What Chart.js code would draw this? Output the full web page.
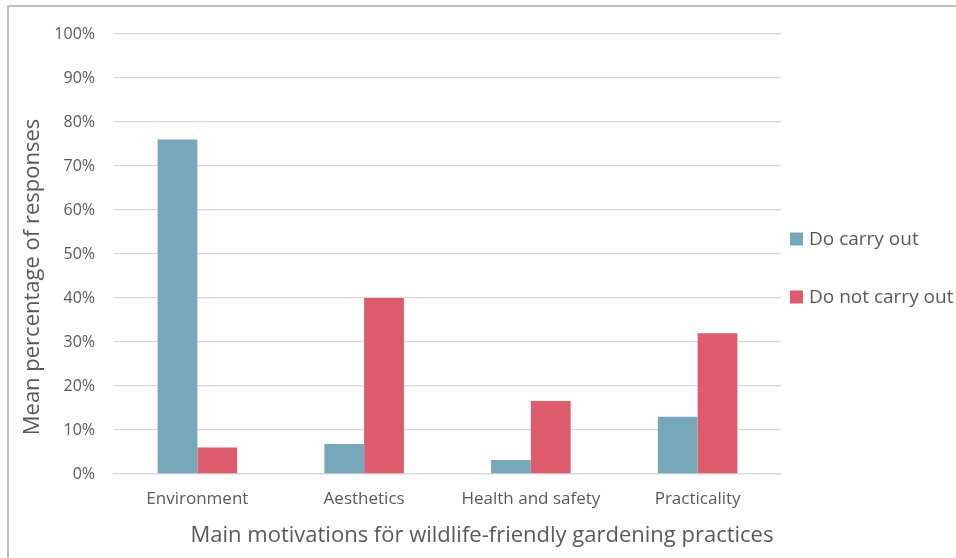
<!DOCTYPE html>
<html>
<head>
<meta charset="utf-8">
<script src="https://cdn.jsdelivr.net/npm/chart.js@4"></script>
<style>
  html, body { margin: 0; padding: 0; background: #ffffff; }
  #wrap { position: relative; width: 956px; height: 558px; overflow: hidden; }
  #frame { position: absolute; left: 7px; top: 5px; right: -4px; bottom: -4px;
           border-left: 2px solid #c4bdb5; border-top: 2px solid #c4bdb5; pointer-events: none; }
  canvas { position: absolute; left: 0; top: 0; }
</style>
</head>
<body>
<div id="wrap">
  <canvas id="c" width="956" height="558"></canvas>
  <div id="frame"></div>
</div>
<script>
// Motivation categories and mean response shares (%)
const categories = ['Environment', 'Aesthetics', 'Health and safety', 'Practicality'];
const doCarryOut = [76, 6.8, 3.2, 13];
const doNotCarryOut = [6, 40, 16.6, 32];
const seriesNames = ['Do carry out', 'Do not carry out'];
const seriesColors = ['#76a8b9', '#dc5b6c'];
const yTickValues = [0, 10, 20, 30, 40, 50, 60, 70, 80, 90, 100];
const xTitle = 'Main motivations för wildlife-friendly gardening practices';
const yTitle = 'Mean percentage of responses';

const FONT = "'Open Sans', 'DejaVu Sans', sans-serif";
const TEXT = '#595959';

// Axis titles and the side legend, drawn after the chart itself
const decorations = {
  id: 'decorations',
  afterDraw(chart) {
    const ctx = chart.ctx;
    ctx.save();
    ctx.fillStyle = TEXT;
    ctx.textAlign = 'center';
    ctx.textBaseline = 'middle';
    ctx.font = '22px ' + FONT;
    ctx.fillText(xTitle, 482, 536);
    ctx.save();
    ctx.translate(33, 277);
    ctx.rotate(-Math.PI / 2);
    ctx.fillText(yTitle, 0, 0);
    ctx.restore();

    ctx.textAlign = 'left';
    ctx.font = '19px ' + FONT;
    const rows = [239, 297];
    chart.data.datasets.forEach((ds, i) => {
      ctx.fillStyle = ds.backgroundColor;
      ctx.fillRect(790, rows[i] - 6.5, 13, 13);
      ctx.fillStyle = TEXT;
      ctx.fillText(ds.label, 809, rows[i] + 1);
    });
    ctx.restore();
  }
};

new Chart(document.getElementById('c'), {
  type: 'bar',
  data: {
    labels: categories,
    datasets: [
      { label: seriesNames[0], data: doCarryOut, backgroundColor: seriesColors[0] },
      { label: seriesNames[1], data: doNotCarryOut, backgroundColor: seriesColors[1] }
    ]
  },
  options: {
    responsive: false,
    animation: false,
    devicePixelRatio: 1,
    layout: { padding: { top: 34, right: 175, bottom: 0, left: 0 } },
    datasets: { bar: { categoryPercentage: 0.477, barPercentage: 1.0, borderWidth: 0 } },
    plugins: { legend: { display: false }, tooltip: { enabled: false }, title: { display: false } },
    scales: {
      x: {
        grid: { display: false, drawTicks: false },
        border: { display: true, color: '#d9d9d9', width: 1.3 },
        ticks: { color: TEXT, font: { family: FONT, size: 17 }, padding: 15, maxRotation: 0 },
        afterFit(scale) { scale.height = 84; }
      },
      y: {
        min: 0,
        max: 100,
        afterBuildTicks(scale) { scale.ticks = yTickValues.map(v => ({ value: v })); },
        grid: { color: '#d9d9d9', lineWidth: 1.3, drawTicks: false },
        border: { display: false },
        ticks: { color: TEXT, font: { family: FONT, size: 16 }, padding: 19,
                 callback: v => v + '%' },
        afterFit(scale) { scale.width = 114; }
      }
    }
  },
  plugins: [decorations]
});
</script>
</body>
</html>
